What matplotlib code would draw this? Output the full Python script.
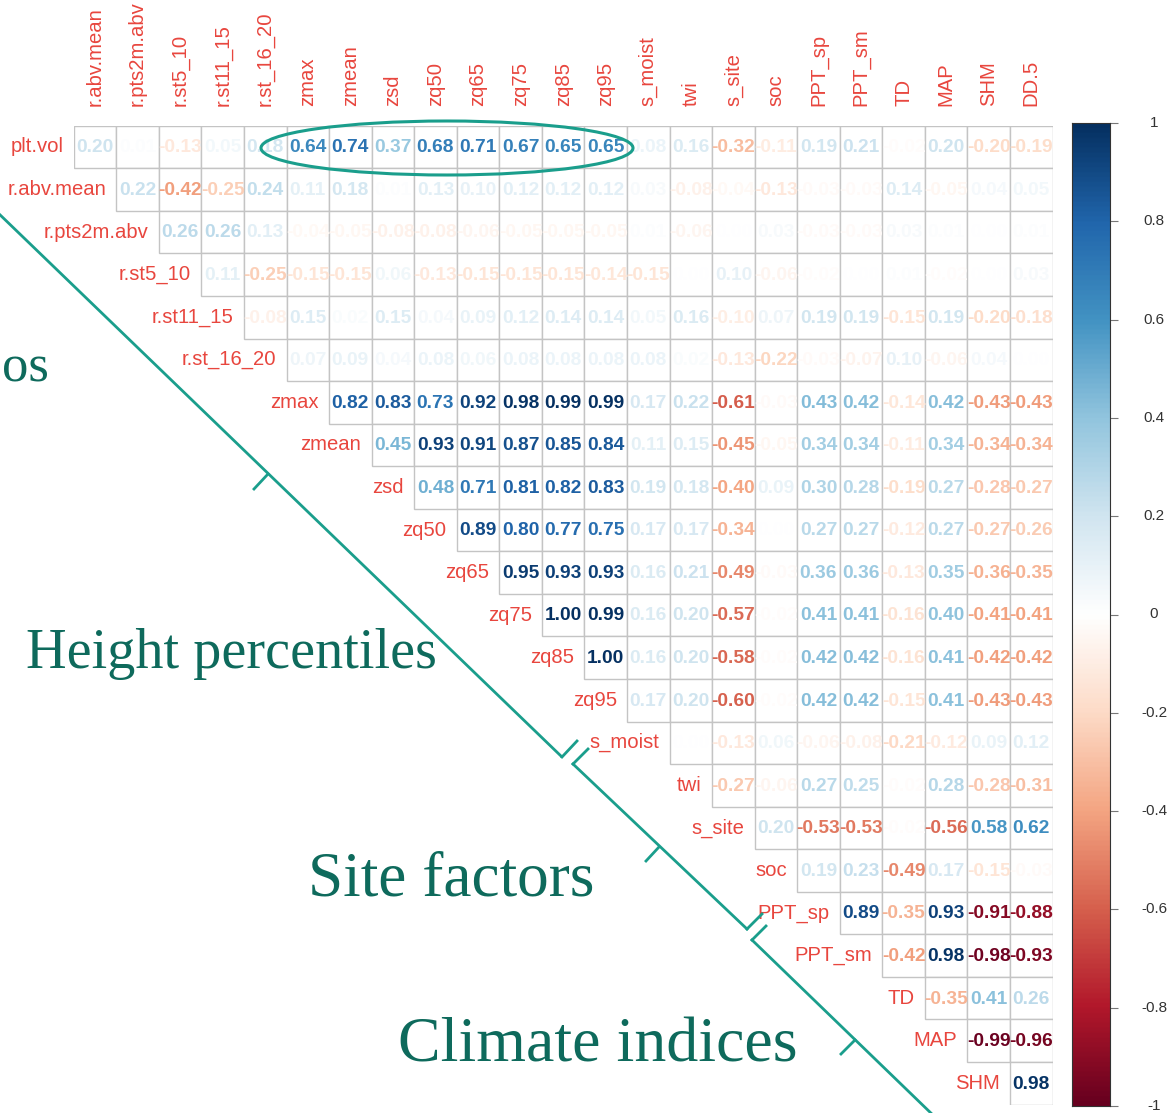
import numpy as np
import matplotlib
matplotlib.use("Agg")
import matplotlib.pyplot as plt
from matplotlib.colors import LinearSegmentedColormap, Normalize
from matplotlib.patches import Rectangle, Ellipse
import matplotlib.transforms as mtransforms

# ---------------- data ----------------
row_labels = ['plt.vol', 'r.abv.mean', 'r.pts2m.abv', 'r.st5_10', 'r.st11_15', 'r.st_16_20',
              'zmax', 'zmean', 'zsd', 'zq50', 'zq65', 'zq75', 'zq85', 'zq95', 's_moist',
              'twi', 's_site', 'soc', 'PPT_sp', 'PPT_sm', 'TD', 'MAP', 'SHM']
col_labels = ['r.abv.mean', 'r.pts2m.abv', 'r.st5_10', 'r.st11_15', 'r.st_16_20', 'zmax',
              'zmean', 'zsd', 'zq50', 'zq65', 'zq75', 'zq85', 'zq95', 's_moist', 'twi',
              's_site', 'soc', 'PPT_sp', 'PPT_sm', 'TD', 'MAP', 'SHM', 'DD.5']

plt_vol     = [0.20, 0.01, -0.13, 0.05, 0.18, 0.64, 0.74, 0.37, 0.68, 0.71, 0.67, 0.65, 0.65,
               0.08, 0.16, -0.32, -0.11, 0.19, 0.21, -0.02, 0.20, -0.20, -0.19]
r_abv_mean  = [0.22, -0.42, -0.25, 0.24, 0.11, 0.18, 0.01, 0.13, 0.10, 0.12, 0.12, 0.12,
               0.03, -0.08, -0.04, -0.13, -0.03, -0.03, 0.14, -0.05, 0.04, 0.05]
r_pts2m_abv = [0.26, 0.26, 0.13, -0.04, -0.05, -0.08, -0.08, -0.06, -0.05, -0.05, -0.05,
               0.01, -0.06, 0.00, 0.03, -0.03, -0.03, 0.03, 0.01, 0.00, 0.01]
r_st5_10    = [0.11, -0.25, -0.15, -0.15, 0.06, -0.13, -0.15, -0.15, -0.15, -0.14, -0.15,
               0.00, 0.10, -0.06, -0.02, 0.00, 0.01, -0.02, 0.00, 0.03]
r_st11_15   = [-0.08, 0.15, 0.02, 0.15, 0.04, 0.09, 0.12, 0.14, 0.14, 0.05, 0.16, -0.10,
               0.07, 0.19, 0.19, -0.15, 0.19, -0.20, -0.18]
r_st_16_20  = [0.07, 0.09, 0.04, 0.08, 0.06, 0.08, 0.08, 0.08, 0.08, 0.02, -0.13, -0.22,
               -0.03, -0.07, 0.10, -0.06, 0.04, 0.00]
zmax        = [0.82, 0.83, 0.73, 0.92, 0.98, 0.99, 0.99, 0.17, 0.22, -0.61, -0.03, 0.43,
               0.42, -0.14, 0.42, -0.43, -0.43]
zmean       = [0.45, 0.93, 0.91, 0.87, 0.85, 0.84, 0.11, 0.15, -0.45, -0.05, 0.34, 0.34,
               -0.11, 0.34, -0.34, -0.34]
zsd         = [0.48, 0.71, 0.81, 0.82, 0.83, 0.19, 0.18, -0.40, 0.09, 0.30, 0.28, -0.19,
               0.27, -0.28, -0.27]
zq50        = [0.89, 0.80, 0.77, 0.75, 0.17, 0.17, -0.34, 0.00, 0.27, 0.27, -0.12, 0.27,
               -0.27, -0.26]
zq65        = [0.95, 0.93, 0.93, 0.16, 0.21, -0.49, -0.03, 0.36, 0.36, -0.13, 0.35, -0.36, -0.35]
zq75        = [1.00, 0.99, 0.16, 0.20, -0.57, -0.02, 0.41, 0.41, -0.16, 0.40, -0.41, -0.41]
zq85        = [1.00, 0.16, 0.20, -0.58, -0.02, 0.42, 0.42, -0.16, 0.41, -0.42, -0.42]
zq95        = [0.17, 0.20, -0.60, -0.02, 0.42, 0.42, -0.15, 0.41, -0.43, -0.43]
s_moist     = [0.00, -0.13, 0.06, -0.06, -0.08, -0.21, -0.12, 0.09, 0.12]
twi         = [-0.27, -0.06, 0.27, 0.25, -0.02, 0.28, -0.28, -0.31]
s_site      = [0.20, -0.53, -0.53, -0.02, -0.56, 0.58, 0.62]
soc         = [0.19, 0.23, -0.49, 0.17, -0.15, -0.03]
PPT_sp      = [0.89, -0.35, 0.93, -0.91, -0.88]
PPT_sm      = [-0.42, 0.98, -0.98, -0.93]
TD          = [-0.35, 0.41, 0.26]
MAP         = [-0.99, -0.96]
SHM         = [0.98]

rows = [plt_vol, r_abv_mean, r_pts2m_abv, r_st5_10, r_st11_15, r_st_16_20, zmax, zmean, zsd,
        zq50, zq65, zq75, zq85, zq95, s_moist, twi, s_site, soc, PPT_sp, PPT_sm, TD, MAP, SHM]

cbar_ticks = [1, 0.8, 0.6, 0.4, 0.2, 0, -0.2, -0.4, -0.6, -0.8, -1]
cbar_tick_labels = ['1', '0.8', '0.6', '0.4', '0.2', '0', '-0.2', '-0.4', '-0.6', '-0.8', '-1']

group_labels = ['os', 'Height percentiles', 'Site factors', 'Climate indices']

# ---------------- style ----------------
W, H = 1169, 1113
fig = plt.figure(figsize=(W / 100, H / 100), dpi=100)
fig.patch.set_facecolor('white')

cmap = LinearSegmentedColormap.from_list(
    'corr', ["#67001F", "#B2182B", "#D6604D", "#F4A582", "#FDDBC7", "#FFFFFF",
             "#D1E5F0", "#92C5DE", "#4393C3", "#2166AC", "#053061"], N=200)
norm = Normalize(-1, 1)

label_red = '#E8463E'
grid_col = '#C4C4C4'
teal = '#1A9E8C'
teal_text = '#0E6A5C'

# matrix axes (pixel geometry of the reference)
gx0, gy0, cell = 73.7, 125.7, 42.56
n = len(col_labels)
ax = fig.add_axes([gx0 / W, 1 - (gy0 + n * cell) / H, n * cell / W, n * cell / H])
ax.set_xlim(-0.5, n - 0.5)
ax.set_ylim(n - 0.5, -0.5)
ax.axis('off')

for i, vals in enumerate(rows):
    for k, v in enumerate(vals):
        j = i + k
        ax.add_patch(Rectangle((j - 0.5, i - 0.5), 1, 1, facecolor='white',
                               edgecolor=grid_col, linewidth=1.0, zorder=1))
        ax.text(j, i + 0.02, f"{v:.2f}", ha='center', va='center', fontsize=13.8,
                fontweight='bold', family='Liberation Sans', color=cmap(norm(v)), zorder=3)
    ax.text(i - 0.5 - 0.24, i, row_labels[i], ha='right', va='center', fontsize=14.6,
            family='Liberation Sans', color=label_red, clip_on=False)

for j, lab in enumerate(col_labels):
    ax.text(j, -0.5 - 0.47, lab, rotation=90, ha='center', va='bottom', fontsize=14.6,
            family='Liberation Sans', color=label_red, clip_on=False)

# ---------------- colorbar ----------------
cb_x0, cb_x1, cb_y0, cb_y1 = 1072, 1110, 123, 1106
cax = fig.add_axes([cb_x0 / W, 1 - cb_y1 / H, (cb_x1 - cb_x0) / W, (cb_y1 - cb_y0) / H])
grad = np.linspace(-1, 1, 400).reshape(-1, 1)
cax.imshow(grad, aspect='auto', cmap=cmap, norm=norm, origin='lower', extent=(0, 1, -1, 1))
cax.set_xlim(0, 1)
cax.set_ylim(-1, 1)
cax.set_xticks([])
cax.yaxis.tick_right()
cax.set_yticks(cbar_ticks)
cax.set_yticklabels([])
cax.tick_params(axis='y', length=6, width=0.8, color='#777777', right=True, left=False)
for s in cax.spines.values():
    s.set_color('#333333')
    s.set_linewidth(0.8)
trans = mtransforms.blended_transform_factory(cax.transAxes, cax.transData)
for t, lab in zip(cbar_ticks, cbar_tick_labels):
    cax.text(2.16, t, lab, transform=trans, ha='center', va='center', fontsize=11,
             family='Liberation Sans', color='#333333', clip_on=False)

# ---------------- annotations (overlay, pixel coordinates) ----------------
ov = fig.add_axes([0, 0, 1, 1], facecolor='none')
ov.set_xlim(0, W)
ov.set_ylim(H, 0)
ov.axis('off')

ov.add_patch(Ellipse((447, 148), 372, 54, fill=False, edgecolor=teal, linewidth=2.2))

lw = 2.0
# bracket 1
ov.plot([-5, 562], [210, 757], color=teal, lw=lw, solid_capstyle='butt')
ov.plot([562, 577], [757, 741], color=teal, lw=lw)
ov.plot([268, 254], [474, 489], color=teal, lw=lw)
# bracket 2
ov.plot([573, 747], [764, 929], color=teal, lw=lw)
ov.plot([573, 588], [764, 749], color=teal, lw=lw)
ov.plot([747, 762], [929, 914], color=teal, lw=lw)
ov.plot([659, 646], [847, 861], color=teal, lw=lw)
# bracket 3
ov.plot([752, 935], [940, 1117], color=teal, lw=lw)
ov.plot([752, 766], [940, 926], color=teal, lw=lw)
ov.plot([855, 841], [1040, 1054], color=teal, lw=lw)

serif = 'Liberation Serif'
ov.text(2, 381, group_labels[0], ha='left', va='baseline', fontsize=38, family=serif,
        color=teal_text)
ov.text(437, 668, group_labels[1], ha='right', va='baseline', fontsize=40.5, family=serif,
        color=teal_text)
ov.text(308, 895, group_labels[2], ha='left', va='baseline', fontsize=45.5, family=serif,
        color=teal_text)
ov.text(398, 1062, group_labels[3], ha='left', va='baseline', fontsize=46, family=serif,
        color=teal_text)

fig.savefig('out.png', dpi=100, facecolor='white')
